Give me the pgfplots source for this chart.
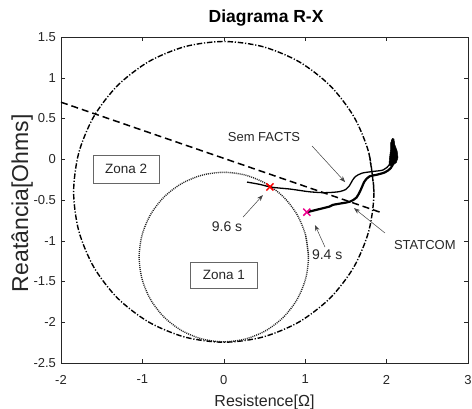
\documentclass[border=0pt]{standalone}
\usepackage{fontspec}
\setmainfont{Liberation Sans}
\usepackage{pgfplots}
\pgfplotsset{compat=1.18}
\usetikzlibrary{arrows.meta}
\definecolor{axgray}{gray}{0.15}
\begin{document}
\begin{tikzpicture}
\useasboundingbox (-61pt,-45pt) rectangle (411pt,363pt);
\begin{axis}[
  scale only axis, width=407pt, height=326pt, at={(0,0)}, anchor=south west,
  xmin=-2, xmax=3, ymin=-2.5, ymax=1.5,
  xtick={-2,-1,0,1,2,3},
  ytick={-2.5,-2,-1.5,-1,-0.5,0,0.5,1,1.5},
  tick align=inside, major tick length=4pt,
  axis line style={axgray, line width=0.5pt},
  every tick/.style={axgray, line width=0.5pt},
  /pgf/number format/assume math mode=true,
  ticklabel style={font=\fontsize{13}{15}\selectfont, text=axgray},
  xticklabel style={yshift=-8.5pt},
  yticklabel style={xshift=-1.5pt},
  xlabel={Resistence[Ω]},
  ylabel={Reatância[Ohms]},
  xlabel style={at={(axis description cs:0.5,-0.132)}, anchor=base, font=\fontsize{16}{18}\selectfont, text=axgray},
  ylabel style={at={(axis description cs:-0.081,0.49)}, anchor=base, font=\fontsize{23}{26}\selectfont, text=axgray},
  title={Diagrama R-X},
  title style={at={(axis description cs:0.504,1.0276)}, anchor=base, font=\bfseries\fontsize{17.5}{20}\selectfont, text=black},
  clip=true,
]
% Zona 2 circle (dash-dot)
\addplot[black, line width=1.4pt, dash pattern=on 5.5pt off 1.8pt on 1.2pt off 1.8pt, smooth] coordinates {
(1.845,-0.40) (1.7821,0.0775) (1.5978,0.5225) (1.3046,0.9046) (0.9225,1.1978) (0.4775,1.3821)
(0,1.445) (-0.4775,1.3821) (-0.9225,1.1978) (-1.3046,0.9046) (-1.5978,0.5225) (-1.7821,0.0775)
(-1.845,-0.40) (-1.7821,-0.8775) (-1.5978,-1.3225) (-1.3046,-1.7046) (-0.9225,-1.9978) (-0.4775,-2.1821)
(0,-2.245) (0.4775,-2.1821) (0.9225,-1.9978) (1.3046,-1.7046) (1.5978,-1.3225) (1.7821,-0.8775)
(1.845,-0.40) (1.7821,0.0775)};
% Zona 1 circle (dotted)
\addplot[black!85, line width=1.4pt, dash pattern=on 1pt off 1pt, smooth] coordinates {
(1.04,-1.2) (1.0045,-0.9308) (0.9006,-0.68) (0.7354,-0.4646) (0.52,-0.2994) (0.2692,-0.1955)
(0,-0.16) (-0.2692,-0.1955) (-0.52,-0.2994) (-0.7354,-0.4646) (-0.9006,-0.68) (-1.0045,-0.9308)
(-1.04,-1.2) (-1.0045,-1.4692) (-0.9006,-1.72) (-0.7354,-1.9354) (-0.52,-2.1006) (-0.2692,-2.2045)
(0,-2.24) (0.2692,-2.2045) (0.52,-2.1006) (0.7354,-1.9354) (0.9006,-1.72) (1.0045,-1.4692)
(1.04,-1.2) (1.0045,-0.9308)};
% dashed line
\addplot[black, line width=1.5pt, dash pattern=on 7pt off 4pt] coordinates {(-2,0.70) (1.95,-0.66)};
% Sem FACTS trajectory
\addplot[black, line width=1.3pt, smooth] coordinates {
(0.285,-0.28) (0.45,-0.31) (0.567,-0.34) (0.70,-0.355) (0.81,-0.365) (0.95,-0.385) (1.06,-0.40)
(1.22,-0.41) (1.35,-0.405) (1.43,-0.395) (1.50,-0.37) (1.54,-0.33) (1.58,-0.26) (1.62,-0.21)
(1.70,-0.17) (1.83,-0.15) (1.96,-0.13) (2.04,-0.06) (2.07,0.05) (2.08,0.15) (2.07,0.24)};
% STATCOM trajectory
\addplot[black, line width=2.2pt, smooth] coordinates {
(1.02,-0.65) (1.14,-0.62) (1.30,-0.58) (1.34,-0.56) (1.45,-0.54) (1.55,-0.52) (1.63,-0.47)
(1.68,-0.38) (1.73,-0.27) (1.79,-0.21) (1.88,-0.19) (1.98,-0.16) (2.05,-0.11) (2.09,-0.03)
(2.10,0.06) (2.09,0.15) (2.07,0.24)};
% blob at the end
\addplot[black, fill=black, line width=0.5pt] coordinates {
(2.03,-0.05) (2.04,0.05) (2.05,0.13) (2.05,0.20) (2.07,0.255) (2.09,0.25) (2.10,0.18)
(2.13,0.10) (2.14,0.02) (2.12,-0.04) (2.08,-0.07) (2.04,-0.08)} --cycle;
% markers
\addplot[red, only marks, mark=x, mark size=5pt, line width=1.5pt] coordinates {(0.567,-0.34)};
\addplot[magenta, only marks, mark=x, mark size=5pt, line width=1.5pt] coordinates {(1.02,-0.65)};
% annotations
\draw[black!75, line width=0.5pt, -{Stealth[length=6pt,width=4.5pt]}] (axis cs:1.084,0.163) -- (axis cs:1.49,-0.28);
\draw[black!75, line width=0.5pt, -{Stealth[length=6pt,width=4.5pt]}] (axis cs:0.236,-0.71) -- (axis cs:0.48,-0.44);
\draw[black!75, line width=0.5pt, -{Stealth[length=6pt,width=4.5pt]}] (axis cs:1.243,-1.077) -- (axis cs:1.12,-0.807);
\draw[black!75, line width=0.5pt, -{Stealth[length=6pt,width=4.5pt]}] (axis cs:1.98,-0.905) -- (axis cs:1.60,-0.60);
\node[text=axgray, font=\fontsize{13}{15}\selectfont] at (axis cs:0.494,0.273) {Sem FACTS};
\node[text=axgray, font=\fontsize{14}{16}\selectfont] at (axis cs:0.04,-0.83) {9.6 s};
\node[text=axgray, font=\fontsize{14}{16}\selectfont] at (axis cs:1.27,-1.175) {9.4 s};
\node[text=axgray, font=\fontsize{13}{15}\selectfont] at (axis cs:2.47,-1.05) {STATCOM};
\node[draw=black!60, line width=0.6pt, fill=white, minimum width=66pt, minimum height=28pt, text=axgray, font=\fontsize{13.5}{15}\selectfont] at (axis cs:-1.20,-0.12) {Zona 2};
\node[draw=black!60, line width=0.6pt, fill=white, minimum width=67pt, minimum height=26pt, text=axgray, font=\fontsize{13.5}{15}\selectfont] at (axis cs:0.0,-1.42) {Zona 1};
\end{axis}
\end{tikzpicture}
\end{document}
